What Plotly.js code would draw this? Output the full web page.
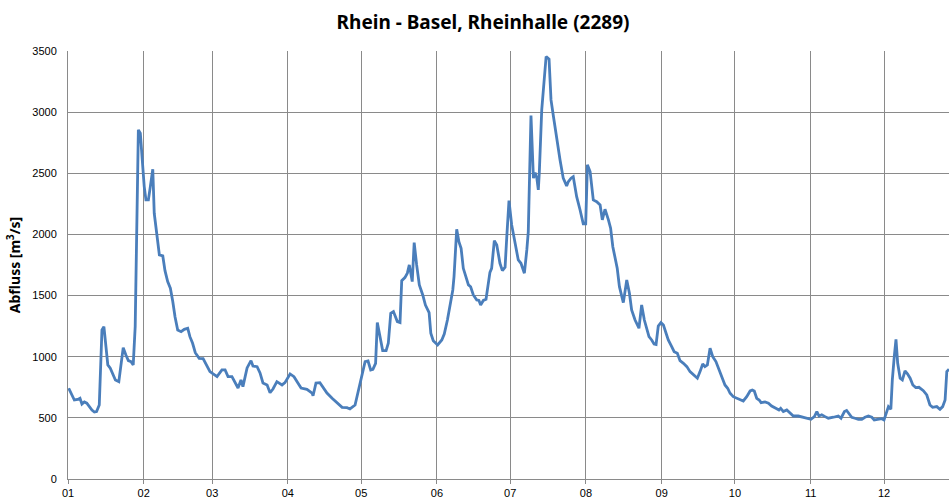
<!DOCTYPE html>
<html>
<head>
<meta charset="utf-8">
<script src="https://cdn.plot.ly/plotly-3.0.1.min.js"></script>
<style>
html,body{margin:0;padding:0;background:#fff;}
#chart{width:949px;height:502px;}
</style>
</head>
<body>
<div id="chart"></div>
<script>
// Day of year (0 = 1 Jan)
const days = [0.3,1.6,2.6,4.0,4.9,5.7,6.7,7.7,8.7,9.8,10.8,11.7,12.8,13.9,14.7,15.6,16.3,17.3,18.3,19.4,20.8,21.7,22.6,23.7,24.7,25.8,26.7,27.5,28.1,28.8,29.6,30.3,31.2,31.9,32.9,33.7,34.7,35.3,36.3,37.4,38.8,39.7,40.8,41.9,42.9,43.8,44.9,46.3,47.6,49.0,49.9,51.0,52.1,53.7,
55.3,58.1,61.0,63.0,64.3,65.5,67.1,69.6,70.8,71.6,73.3,74.9,75.7,77.4,78.6,79.8,81.5,82.7,83.9,85.5,87.6,88.8,90.9,92.5,94.1,95.4,97.8,99.9,100.3,101.5,103.1,104.4,106.0,108.1,110.1,112.2,114.2,115.4,117.5,118.7,120.3,121.6,122.8,123.9,124.8,125.9,126.6,127.7,128.8,130.2,131.1,132.1,133.2,134.8,135.9,136.6,137.9,138.9,139.7,140.9,141.7,142.7,143.8,145.2,146.3,147.8,148.5,149.5,151.3,153.0,154.0,155.3,156.4,157.5,158.0,159.1,160.0,160.9,161.8,162.9,163.9,164.8,165.9,167.3,168.2,168.9,170.0,171.1,172.0,172.7,173.4,174.5,175.5,176.8,177.8,178.9,179.6,180.5,181.6,183.0,184.3,185.4,186.8,187.8,188.4,189.5,190.5,191.2,191.9,192.5,192.9,193.9,195.0,195.7,196.9,197.7,198.7,200.0,201.4,202.7,204.1,204.8,205.9,206.8,208.2,209.6,210.9,211.9,212.6,213.7,215.0,216.4,217.8,218.7,219.8,221.2,222.1,223.0,223.9,224.8,225.7,226.6,227.3,228.7,229.8,230.7,232.1,233.7,234.8,235.9,236.9,237.8,238.9,239.9,240.7,241.6,242.7,243.7,244.8,245.7,247.1,248.1,249.4,250.5,251.9,253.3,254.6,256.0,257.6,258.7,259.8,260.7,261.7,262.8,263.9,265.2,266.2,267.6,268.9,270.0,271.0,272.3,273.7,275.1,276.4,277.8,279.2,280.1,280.9,281.9,282.9,283.7,285.3,286.7,288.0,289.7,291.0,291.7,292.8,294.2,295.5,296.9,298.9,301.0,303.0,304.1,305.5,306.5,307.4,308.5,309.9,311.2,313.3,315.3,316.4,317.8,318.7,320.1,320.8,322.1,323.5,324.9,326.2,327.6,329.0,330.0,331.7,333.1,334.0,335.1,335.8,336.8,337.4,338.2,338.9,339.6,340.6,341.5,342.6,343.6,344.7,345.8,347.0,348.3,350.1,351.5,352.8,353.9,355.6,356.9,358.0,359.0,359.7,360.6];

// Abfluss [m3/s]
const flow = [742,679,646,651,660,613,630,620,592,564,548,551,605,1219,1246,1082,933,906,865,810,796,933,1074,1014,968,960,933,1246,2010,2855,2828,2610,2391,2282,2282,2391,2533,2173,2010,1832,1824,1704,1614,1560,1450,1327,1219,1205,1224,1233,1164,1110,1033,987,
985,878,837,892,892,837,837,744,810,755,908,968,924,918,867,785,769,706,736,796,769,788,859,837,785,744,733,703,681,785,788,752,703,660,624,586,583,573,605,703,830,960,965,892,897,946,1279,1178,1050,1050,1110,1355,1369,1287,1279,1622,1647,1683,1751,1614,1933,1751,1587,1505,1423,1360,1192,1131,1096,1137,1186,1300,1409,1546,1655,2042,1941,1887,1723,1642,1587,1572,1505,1464,1460,1423,1460,1470,1601,1690,1723,1949,1914,1764,1704,1732,1982,2277,2078,1941,1791,1764,1683,1873,2023,2972,2460,2506,2460,2364,2500,3018,3250,3455,3433,3100,2964,2773,2609,2460,2397,2432,2460,2473,2309,2200,2086,2086,2569,2514,2282,2268,2241,2119,2206,2119,2051,1900,1805,1723,1573,1491,1442,1628,1519,1382,1300,1233,1423,1300,1219,1164,1137,1104,1100,1251,1279,1260,1192,1137,1082,1041,1028,968,946,919,878,856,824,878,941,919,932,1069,1000,960,906,824,769,742,701,673,660,646,638,673,720,728,720,660,646,624,630,620,597,578,564,578,551,564,537,515,515,505,497,488,510,551,515,525,510,497,505,515,497,551,560,525,505,497,488,488,505,515,505,483,488,493,483,551,592,570,810,1000,1142,946,824,810,883,860,824,769,747,750,722,687,605,586,592,570,592,646,878,897];

const monthStarts = [0,31,59,90,120,151,181,212,243,273,304,334];
const monthLabels = ['01','02','03','04','05','06','07','08','09','10','11','12'];
const yTicks = [0,500,1000,1500,2000,2500,3000,3500];

const gridCol = '#8a8a8a';

Plotly.newPlot('chart', [{
  x: days, y: flow, type: 'scatter', mode: 'lines',
  line: {color: '#4a7ebb', width: 2.8},
  hoverinfo: 'x+y'
}], {
  width: 949, height: 502,
  margin: {l: 68, r: 0, t: 51, b: 23, pad: 0},
  paper_bgcolor: '#fff', plot_bgcolor: '#fff',
  showlegend: false,
  title: {
    text: 'Rhein - Basel, Rheinhalle (2289)',
    font: {family: 'Noto Sans, sans-serif', size: 19, color: '#000', weight: 'bold'},
    x: 0.509, xref: 'container', xanchor: 'center',
    y: 0.955, yref: 'container', yanchor: 'middle'
  },
  xaxis: {
    range: [0, 360.6],
    tickmode: 'array', tickvals: monthStarts, ticktext: monthLabels,
    showgrid: true, gridcolor: gridCol, gridwidth: 1,
    zeroline: false,
    showline: true, linecolor: gridCol, linewidth: 1,
    ticks: 'outside', ticklen: 4, tickcolor: gridCol,
    tickfont: {family: 'Liberation Sans, Arial, sans-serif', size: 11, color: '#000'},
    fixedrange: true
  },
  yaxis: {
    range: [0, 3500],
    tickmode: 'array', tickvals: yTicks,
    showgrid: true, gridcolor: gridCol, gridwidth: 1,
    zeroline: false,
    showline: true, linecolor: gridCol, linewidth: 1,
    ticks: 'outside', ticklen: 8, tickcolor: 'rgba(0,0,0,0)',
    tickfont: {family: 'Liberation Sans, Arial, sans-serif', size: 11, color: '#000'},
    title: {text: 'Abfluss [m<sup>3</sup>/s]', standoff: 8,
      font: {family: 'Noto Sans, sans-serif', size: 14, color: '#000', weight: 'bold'}},
    fixedrange: true
  }
}, {displayModeBar: false, staticPlot: true});
</script>
</body>
</html>
